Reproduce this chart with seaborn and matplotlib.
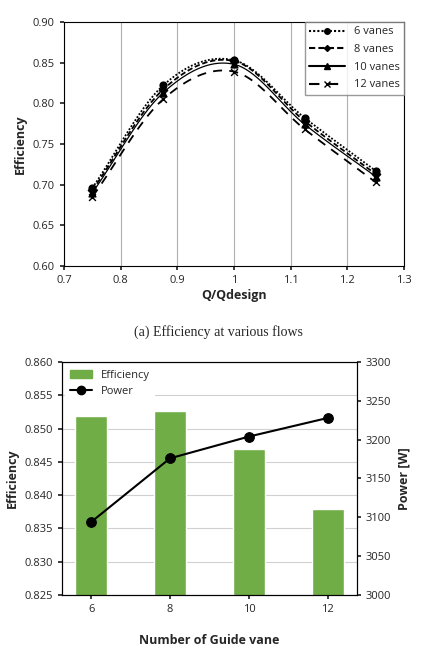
import numpy as np
import pandas as pd
import seaborn as sns
import matplotlib
matplotlib.use("Agg")
import matplotlib.pyplot as plt
from matplotlib.lines import Line2D
from matplotlib.patches import Patch

# Top chart data
flow = [0.75, 0.875, 1.0, 1.125, 1.25]
eff_6 = [0.696, 0.822, 0.853, 0.782, 0.717]
eff_8 = [0.693, 0.817, 0.852, 0.778, 0.713]
eff_10 = [0.690, 0.813, 0.848, 0.774, 0.710]
eff_12 = [0.685, 0.805, 0.839, 0.768, 0.703]

# Bottom chart data
vanes = ["6", "8", "10", "12"]
vane_eff = [0.8519, 0.8526, 0.8469, 0.8379]
vane_power = [3094, 3176, 3204, 3228]


def smooth(x, y, n=30):
    # cubic Hermite curve through the points (like Excel smoothed lines)
    x = np.asarray(x, float); y = np.asarray(y, float)
    m = np.gradient(y, x)
    xs, ys = [], []
    for i in range(len(x) - 1):
        h = x[i + 1] - x[i]
        t = np.linspace(0, 1, n)
        h00 = 2*t**3 - 3*t**2 + 1; h10 = t**3 - 2*t**2 + t
        h01 = -2*t**3 + 3*t**2; h11 = t**3 - t**2
        xs.append(x[i] + t*h)
        ys.append(h00*y[i] + h10*h*m[i] + h01*y[i+1] + h11*h*m[i+1])
    return np.concatenate(xs), np.concatenate(ys)


sns.set_theme(style="white")
plt.rcParams['font.family'] = ['Open Sans', 'DejaVu Sans']

fig = plt.figure(figsize=(4.36, 6.48), dpi=100)
W, H = 436, 648

# ---- top panel
ax1 = fig.add_axes([64/W, 1-266/H, 340/W, 244/H])
series = [("6 vanes", eff_6, (0, (1, 1)), "o", 4),
          ("8 vanes", eff_8, (0, (3, 1.5)), "D", 3),
          ("10 vanes", eff_10, "-", "^", 4),
          ("12 vanes", eff_12, (0, (5, 4)), "x", 4)]
handles = []
for name, vals, ls, mk, ms in series:
    sx, sy = smooth(flow, vals)
    sns.lineplot(x=sx, y=sy, ax=ax1, color="black", linestyle=ls, linewidth=1.3 if ls != "-" else 0.9)
    sns.scatterplot(x=flow, y=vals, ax=ax1, color="black", marker=mk, s=ms*6, linewidth=1,
                    edgecolor="black", zorder=5)
    handles.append(Line2D([], [], color="black", linestyle=ls, marker=mk, markersize=ms, label=name))
ax1.set_xlim(0.7, 1.3)
ax1.set_ylim(0.6, 0.9)
ax1.set_xticks(np.arange(0.7, 1.31, 0.1))
ax1.set_xticklabels(["0.7", "0.8", "0.9", "1", "1.1", "1.2", "1.3"])
ax1.set_yticks(np.arange(0.6, 0.91, 0.05))
ax1.set_yticklabels([f"{v:.2f}" for v in np.arange(0.6, 0.91, 0.05)])
ax1.grid(axis="x", color="#b0b0b0", linewidth=0.8)
ax1.tick_params(labelsize=8, length=3, direction="out", bottom=True, left=True)
for s in ax1.spines.values():
    s.set_color("black"); s.set_linewidth(0.8)
ax1.set_xlabel("Q/Qdesign", fontsize=9, fontweight="bold", labelpad=2)
ax1.set_ylabel("Efficiency", fontsize=9, fontweight="bold")
ax1.legend(handles=handles, loc="upper right", fontsize=8, frameon=True, fancybox=False,
           edgecolor="#808080", handlelength=3.2, borderaxespad=0.0, labelspacing=0.6)
fig.text(0.5, 1-336/H, "(a) Efficiency at various flows", ha="center", fontsize=10,
         family=["Liberation Serif", "DejaVu Serif"])

# ---- bottom panel
ax2 = fig.add_axes([62/W, 1-595/H, 295/W, 233/H])
df = pd.DataFrame({"Vanes": vanes, "Efficiency": vane_eff, "Power": vane_power})
sns.barplot(data=df, x="Vanes", y="Efficiency", ax=ax2, color="#70ad47", saturation=1, width=0.4)
ax2.set_ylim(0.825, 0.860)
ax2.set_yticks(np.arange(0.825, 0.8601, 0.005))
ax2.set_yticklabels([f"{v:.3f}" for v in np.arange(0.825, 0.8601, 0.005)])
ax2.grid(axis="y", color="#d0d0d0", linewidth=0.8)
ax2.set_axisbelow(True)
ax2.tick_params(labelsize=8, length=3, bottom=True, left=True)
ax2.set_xlabel("Number of Guide vane", fontsize=9, fontweight="bold", labelpad=14)
ax2.set_ylabel("Efficiency", fontsize=9, fontweight="bold")

ax3 = ax2.twinx()
sns.lineplot(data=df, x="Vanes", y="Power", ax=ax3, color="black", marker="o", markersize=7,
             markeredgecolor="black", linewidth=1.5, legend=False)
ax3.set_ylim(3000, 3300)
ax3.set_yticks(range(3000, 3301, 50))
ax3.tick_params(labelsize=8, length=3, right=True)
ax3.set_ylabel("Power [W]", fontsize=9, fontweight="bold")
for a in (ax2, ax3):
    for s in a.spines.values():
        s.set_color("black"); s.set_linewidth(0.8)
leg_handles = [Patch(color="#70ad47", label="Efficiency"),
               Line2D([], [], color="black", marker="o", markersize=6, linewidth=1.5, label="Power")]
ax3.legend(handles=leg_handles, loc="upper left", fontsize=8, frameon=True, framealpha=1,
           edgecolor="white", fancybox=False, borderaxespad=0.3)

fig.savefig("out.png", dpi=100)
